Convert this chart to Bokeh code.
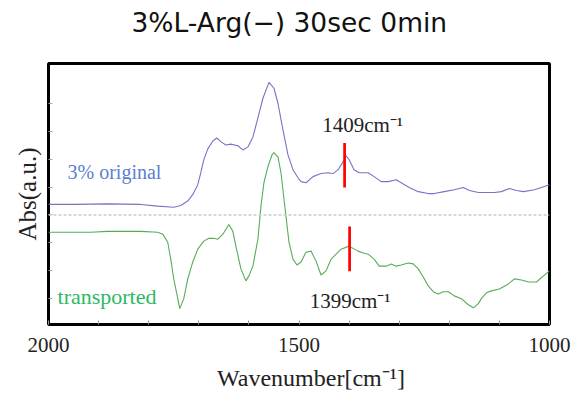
from bokeh.plotting import figure
from bokeh.models import Range1d, FixedTicker, Label, Span, Title
from bokeh.embed import file_html
from bokeh.resources import INLINE

# ---- data ----
wn_orig = [2000, 1950, 1882, 1816, 1782, 1750, 1736, 1722, 1712, 1702, 1696, 1690, 1682,
           1672, 1664, 1656, 1646, 1636, 1622, 1612, 1602, 1592, 1582, 1572, 1560, 1550,
           1542, 1532, 1522, 1512, 1502, 1496, 1486, 1472, 1456, 1442, 1432, 1422, 1412,
           1406, 1400, 1390, 1380, 1362, 1350, 1336, 1322, 1306, 1296, 1280, 1262, 1242,
           1230, 1210, 1190, 1172, 1160, 1142, 1110, 1096, 1080, 1066, 1052, 1030, 1000]
abs_orig = [0.38, 0.38, 0.40, 0.38, 0.32, 0.28, 0.34, 0.50, 0.74, 1.09, 1.52, 1.99, 2.38,
            2.66, 2.77, 2.64, 2.52, 2.55, 2.49, 2.34, 2.45, 2.81, 3.49, 4.20, 4.77, 4.56,
            4.02, 3.06, 2.16, 1.63, 1.34, 1.20, 1.16, 1.38, 1.49, 1.52, 1.49, 1.63, 1.91,
            2.13, 1.99, 1.63, 1.52, 1.52, 1.38, 1.20, 1.20, 1.27, 1.16, 0.99, 0.84, 0.77,
            0.77, 0.84, 0.91, 0.99, 0.88, 0.81, 0.81, 0.84, 0.95, 0.88, 0.84, 0.91, 1.09]

wn_trans = [2000, 1916, 1882, 1816, 1782, 1772, 1762, 1756, 1750, 1742, 1738, 1730, 1722,
            1712, 1702, 1690, 1680, 1670, 1662, 1652, 1640, 1632, 1626, 1616, 1606, 1600,
            1592, 1582, 1576, 1570, 1562, 1554, 1550, 1542, 1536, 1526, 1520, 1512, 1504,
            1496, 1486, 1476, 1466, 1456, 1446, 1436, 1416, 1400, 1382, 1372, 1362, 1350,
            1340, 1326, 1316, 1306, 1296, 1282, 1272, 1262, 1252, 1242, 1232, 1222, 1212,
            1202, 1190, 1176, 1162, 1152, 1142, 1136, 1126, 1116, 1100, 1082, 1070, 1056,
            1042, 1026, 1012, 1000]
abs_trans = [-0.62, -0.62, -0.59, -0.59, -0.62, -0.69, -0.98, -1.59, -2.30, -3.01, -3.37,
             -3.01, -2.30, -1.69, -1.23, -0.94, -0.84, -0.84, -0.87, -0.69, -0.34, -0.59,
             -1.12, -1.94, -2.37, -2.19, -1.84, -0.87, 0.31, 1.16, 1.74, 2.16, 2.24, 2.09,
             1.52, -0.05, -0.98, -1.59, -1.80, -1.69, -1.34, -1.30, -1.66, -2.16, -2.01,
             -1.59, -1.23, -1.12, -1.30, -1.37, -1.41, -1.59, -1.84, -1.84, -1.76, -1.84,
             -1.80, -1.73, -1.76, -1.94, -2.23, -2.55, -2.76, -2.84, -2.76, -2.76, -2.91,
             -3.01, -3.23, -3.34, -3.19, -3.01, -2.80, -2.73, -2.66, -2.48, -2.30, -2.34,
             -2.41, -2.41, -2.19, -2.01]

marker_wn = [1409, 1399]
marker_top = [2.59, -0.41]
marker_bottom = [0.99, -2.02]
marker_labels = ["1409cm\u207b\u00b9", "1399cm\u207b\u00b9"]

x_major = [2000, 1500, 1000]
x_minor = [1900, 1800, 1700, 1600, 1400, 1300, 1200, 1100]
y_ticks = [-3, -2, -1, 0, 1, 2, 3, 4]

title_text = "3%L-Arg(\u2212) 30sec 0min"

SERIF = "Liberation Serif"

p = figure(width=578, height=393, output_backend="svg", toolbar_location=None, title=None,
           x_range=Range1d(2000, 1000), y_range=Range1d(-3.94, 5.45),
           min_border_left=48, min_border_right=29, min_border_top=63, min_border_bottom=67)

p.background_fill_color = "white"
p.border_fill_color = "white"
p.outline_line_color = "black"
p.outline_line_width = 3
p.xgrid.visible = False
p.ygrid.visible = False

# spacer between frame and title (nearest the frame), then the title
p.add_layout(Title(text=" ", text_font_size="10px", standoff=11), "above")
p.add_layout(Title(text=title_text, text_font="DejaVu Sans", text_font_size="26.5px",
                   text_font_style="normal", text_color="#111111", align="left",
                   vertical_align="top", offset=83, standoff=0), "above")

# x axis
xa = p.xaxis[0]
xa.ticker = FixedTicker(ticks=x_major, minor_ticks=x_minor)
xa.axis_line_color = None
xa.major_tick_in = 4
xa.major_tick_out = 0
xa.minor_tick_in = 4
xa.minor_tick_out = 0
xa.major_tick_line_color = "#999999"
xa.minor_tick_line_color = "#999999"
xa.major_label_text_font = SERIF
xa.major_label_text_font_size = "21px"
xa.major_label_text_color = "#222222"
xa.major_label_standoff = 13
xa.axis_label = "\u2003Wavenumber[cm\u207b\u00b9]"
xa.axis_label_text_font = SERIF
xa.axis_label_text_font_size = "24px"
xa.axis_label_text_font_style = "normal"
xa.axis_label_text_color = "#222222"
xa.axis_label_standoff = 10

# y axis
ya = p.yaxis[0]
ya.ticker = FixedTicker(ticks=y_ticks)
ya.axis_line_color = None
ya.major_tick_in = 4
ya.major_tick_out = 0
ya.minor_tick_line_color = None
ya.major_tick_line_color = "#aaaaaa"
ya.major_label_overrides = {t: "" for t in y_ticks}
ya.major_label_text_font_size = "1px"
ya.major_label_standoff = 0
ya.axis_label = "Abs(a.u.)"
ya.axis_label_text_font = SERIF
ya.axis_label_text_font_size = "25px"
ya.axis_label_text_font_style = "normal"
ya.axis_label_text_color = "#222222"
ya.axis_label_standoff = 8

# zero dashed line
p.add_layout(Span(location=0, dimension="width", line_color="#cccccc",
                  line_dash="3 2", line_width=1.5))

# spectra
p.line(wn_orig, abs_orig, line_color="#7474c8", line_width=1.1)
p.line(wn_trans, abs_trans, line_color="#58ac58", line_width=1.1)

# red markers
p.segment(x0=marker_wn, y0=marker_bottom, x1=marker_wn, y1=marker_top,
          line_color="red", line_width=2.7)

# annotations
p.add_layout(Label(x=1373, y=3.24, text=marker_labels[0], text_font=SERIF,
                   text_font_size="21px", text_align="center", text_baseline="middle",
                   text_color="#222222"))
p.add_layout(Label(x=1398, y=-3.09, text=marker_labels[1], text_font=SERIF,
                   text_font_size="21px", text_align="center", text_baseline="middle",
                   text_color="#222222"))
p.add_layout(Label(x=1962, y=1.56, text="3% original", text_font=SERIF,
                   text_font_size="20px", text_align="left", text_baseline="middle",
                   text_color="#5b80d0"))
p.add_layout(Label(x=1982, y=-2.95, text="transported", text_font=SERIF,
                   text_font_size="22px", text_align="left", text_baseline="middle",
                   text_color="#2db865"))

open("out.html", "w").write(file_html(p, INLINE))
